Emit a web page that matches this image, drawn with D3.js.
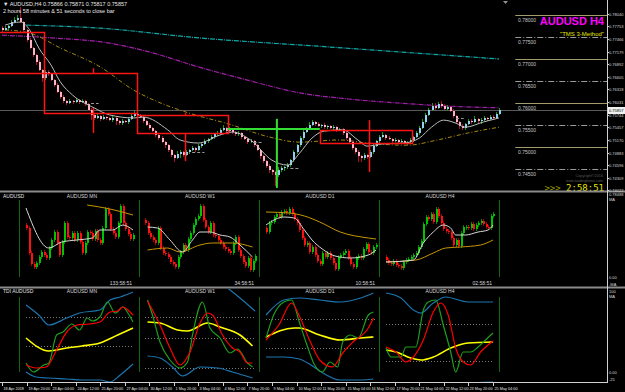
<!DOCTYPE html>
<html>
<head>
<meta charset="utf-8">
<script src="https://cdn.jsdelivr.net/npm/d3@7"></script>
<style>
  body { margin: 0; background: #000; }
  svg { display: block; }
</style>
</head>
<body>
<script>
// ---- AUDUSD H4, precios en unidades de 0.0001 ----
const firstOpen = 7772;
const closes = [
  7767,7771,7776,7785,7790,7794,7785,7767,7744,7726,
  7710,7694,7676,7658,7671,7667,7653,7642,7626,7615,
  7605,7601,7605,7603,7608,7603,7605,7599,7585,7574,
  7567,7571,7565,7569,7567,7562,7567,7560,7555,7560,
  7558,7565,7571,7576,7574,7569,7560,7551,7544,7537,
  7528,7521,7512,7505,7494,7483,7476,7485,7490,7483,
  7490,7494,7499,7494,7503,7508,7515,7519,7524,7530,
  7533,7540,7544,7537,7542,7535,7530,7533,7524,7519,
  7512,7515,7505,7494,7480,7469,7458,7449,7444,7437,
  7449,7453,7455,7460,7471,7490,7505,7521,7535,7544,
  7551,7558,7553,7549,7551,7546,7549,7544,7546,7540,
  7542,7533,7521,7512,7499,7490,7480,7476,7483,7478,
  7490,7503,7515,7524,7528,7521,7519,7515,7517,7512,
  7515,7510,7512,7517,7524,7533,7544,7558,7574,7585,
  7594,7590,7599,7594,7587,7592,7583,7571,7558,7549,
  7544,7553,7560,7558,7565,7560,7562,7567,7565,7569,
  7567,7576,7586
];
const wickUp = [
  3,4,2,5,6,8,25,3,2,4, 3,2,4,3,6,4,3,2,5,3, 4,3,6,3,5,3,4,3,2,4,
  3,5,2,4,3,2,5,3,2,4, 3,4,5,6,4,3,2,3,4,2, 3,2,4,3,2,3,2,6,4,3,
  4,3,5,2,4,3,5,3,4,3, 5,4,6,3,4,3,2,4,3,2, 3,4,2,3,2,3,2,4,3,2,
  6,4,3,5,3,4,3,5,4,3, 6,4,3,5,3,4,3,2,4,3, 3,2,4,3,2,3,4,3,5,3,
  4,5,3,4,6,3,4,3,5,3, 4,3,3,4,3,5,4,6,5,4, 7,8,5,6,4,5,3,4,3,2,
  4,3,5,4,6,3,5,4,3,5, 4,5,3
];
const wickDn = [
  4,3,5,2,3,2,3,4,5,3, 4,6,3,10,4,5,3,4,3,5, 3,4,3,4,3,5,3,4,3,12,
  4,3,5,3,4,3,5,8,4,3, 3,4,3,2,4,3,4,3,5,3, 4,5,3,6,4,5,8,3,10,4,
  3,5,3,4,3,5,3,4,3,4, 3,4,3,5,3,4,3,4,5,3, 4,3,5,3,6,4,5,8,6,25,
  5,4,6,3,4,3,4,3,5,3, 4,3,5,3,4,3,5,3,4,6, 3,4,5,3,4,6,12,8,5,4,
  3,4,3,4,3,5,3,4,3,5, 4,3,5,3,4,3,4,3,4,3, 3,4,3,5,3,4,3,4,5,8,
  5,4,3,5,3,4,6,3,4,3, 4,3,2
];
// medias móviles [barra, precio]
const maFast = [[1,7778],[6,7785],[9,7767],[12,7726],[16,7687],[19,7649],[23,7619],[30,7590],[35,7574],[43,7567],[46,7569],[54,7540],[58,7517],[64,7510],[71,7528],[75,7535],[81,7517],[88,7471],[93,7460],[97,7487],[101,7521],[105,7537],[111,7540],[116,7517],[119,7503],[124,7508],[131,7510],[136,7521],[140,7546],[144,7562],[148,7555],[151,7546],[157,7558],[162,7567]];
const maCyan = [[8,7778],[32,7771],[64,7749],[103,7730],[162,7701]];
const maMagenta = [[0,7755],[16,7749],[35,7737],[48,7717],[64,7683],[80,7653],[97,7624],[113,7610],[129,7601],[145,7594],[162,7590]];
const maGold = [[1,7767],[9,7760],[19,7726],[32,7683],[43,7630],[51,7603],[61,7578],[74,7553],[87,7524],[97,7512],[110,7517],[119,7510],[132,7505],[142,7517],[152,7533],[162,7546]];
// objetos TMS [barra inicio, barra fin, precio arriba, precio abajo]
const redBoxes = [[-3,13.7,7762,7669],[13.7,44,7669,7578],[44,73.6,7574,7533],[103.6,133.5,7540,7510]];
const redMarks = [[29.6,7590,7533],[59.8,7533,7469],[119.5,7562,7444],[29.6,7680,7669],[59.8,7578,7574]];
const greenHLine = [73.6,103.6,7542];
const greenVLine = [89.6,7565,7408];
const grayDashes = [[29,31.5,7601],[62,66,7490],[82,85,7512],[94,97,7453],[148,150.5,7567]];
const roundLevels = [7800,7750,7700,7650,7600,7550,7500,7450];
const priceTicks = [7804.0,7775.3,7746.6,7717.9,7689.2,7660.5,7631.8,7603.1,7574.4,7545.7,7517.0,7488.3,7459.6,7430.9,7402.2];
const priceLabels = ["0.78040","0.77753","0.77466","0.77179","0.76892","0.76605","0.76318","0.76031","0.75744","0.75457","0.75170","0.74883","0.74596","0.74309","0.74022"];
const bid = 7585.7;
const timeBars = [0,8,16,24,32,40,48,56,64,72,80,88,96,104,112,120,128,136,144,152,160];
const timeLabels = ["18 Apr 2018","19 Apr 20:00","23 Apr 04:00","24 Apr 12:00","25 Apr 20:00","27 Apr 04:00","30 Apr 12:00","1 May 20:00","3 May 04:00","4 May 12:00","7 May 20:00","9 May 04:00","10 May 12:00","11 May 20:00","15 May 04:00","16 May 12:00","17 May 20:00","21 May 04:00","22 May 12:00","23 May 20:00","25 May 04:00"];

// ---- mini gráficos (cierres) ----
const mnCloses = [7710,7260,7068,7020,7092,7200,7290,7230,7170,7350,7500,7650,7440,7230,7470,7800,7560,7530,7620,7500,7632,7470,7260,7440,7650,7632,7512,7668,7500,7452,7710,8052,7968,7692,7632,7560,7800,8112,7800,7692,7608,7512,7590];
const w1Closes = [7800,7620,7560,7500,7440,7710,7350,7272,7248,7200,7110,7068,7020,7200,7290,7410,7320,7512,7632,7770,7872,7932,8112,7860,7728,7650,7800,7590,7572,7500,7440,7380,7332,7296,7260,7440,7560,7320,7212,7110,7032,7170,6960,7128,7212];
const d1Closes = [7650,7800,7830,7908,7968,7908,8010,8028,7992,8052,7968,7872,7812,7680,7530,7410,7452,7290,7368,7230,7128,7068,7260,7200,7272,7170,7080,6972,7200,7230,7272,7308,7170,7068,7008,7170,7212,7170,7332,7428,7290,7272,7368,7410];
const h4Closes = [7140,7080,7068,7128,7050,7032,6990,7110,7140,7164,7200,7224,7260,7368,7488,7788,7908,7872,7968,7830,8052,7932,7800,7692,7668,7650,7530,7410,7500,7392,7632,7728,7740,7710,7788,7692,7764,7800,7848,7788,7740,7710,7932,7968];
const mnFast = [[0,8076],[9,7356],[14,7464],[20,7500],[26,7536],[29,7680],[34,7680],[38,7770],[42,7680]];
const mnSlow = [[24,8130],[33,8058],[42,7950]];
const w1Fast = [[1,7734],[5,7716],[10,7500],[15,7284],[19,7500],[22,7644],[26,7644],[30,7590],[34,7554],[38,7410],[43,7194]];
const w1Slow = [[1,7320],[9,7356],[14,7284],[22,7410],[27,7446],[35,7446],[43,7374]];
const d1Fast = [[0,7770],[7,7914],[11,7896],[15,7680],[18,7500],[22,7338],[27,7212],[33,7176],[40,7230],[43,7320]];
const d1Slow = [[0,8004],[9,7986],[15,7932],[21,7824],[29,7644],[40,7536],[43,7518]];
const h4Fast = [[0,7104],[11,7140],[15,7446],[19,7644],[23,7770],[26,7716],[28,7590],[32,7590],[37,7644],[41,7680],[43,7770]];
const h4Slow = [[0,7104],[12,7140],[19,7266],[24,7356],[30,7374],[38,7410],[43,7500]];
const miniTimers = ["133:58:51","34:58:51","10:58:51","02:58:51"];

// ---- TDI [barra, valor] ----
const mnUp = [[0,78],[5,68],[9,58],[16,65],[21,70],[29,73],[33,83],[37,86],[42,91]];
const mnLo = [[0,11],[4,6],[9,5],[16,4],[22,3],[29,3],[33,1],[37,8],[42,19]];
const mnMid = [[0,45],[9,32],[16,35],[22,37],[29,40],[36,48],[42,55]];
const mnRsi = [[0,20],[3,11],[7,18],[9,20],[12,48],[14.5,51],[18,59],[21,53],[24,65],[26,62],[29,66],[32,81],[35,70],[38,76],[40,70],[42,61]];
const mnSig = [[0,18],[4,15],[8,16],[12,33],[16,51],[20,58],[25,59],[29,61],[33,71],[36,72],[38,76],[40,73],[42,68]];
const w1Up = [[0,112],[15,118],[28,104],[33,95],[38,85],[44,72]];
const w1Lo = [[1,27],[6,25],[11,16],[15,7],[22,16],[29,15],[35,11],[43,5]];
const w1Mid = [[1,61],[6,60],[13,53],[17,52],[25,60],[30,56],[38,48],[43,37]];
const w1Rsi = [[1,83],[3,68],[6,41],[10,23],[14,15],[17,21],[19,48],[23,81],[26,55],[30,45],[34,30],[37,34],[41,20],[43,16]];
const w1Sig = [[1,82],[6,58],[10,35],[14,18],[18,31],[22,60],[25,70],[27,68],[31,48],[35,35],[38,31],[41,20],[43,20]];
const d1Up = [[0,68],[7,83],[13,85],[21,83],[29,81],[37,85],[42,90]];
const d1Lo = [[0,26],[7,26],[13,24],[17,19],[21,12],[29,3],[37,3],[42,4]];
const d1Mid = [[0,46],[11,55],[13,55],[21,48],[29,43],[37,45],[42,46]];
const d1Rsi = [[0,45],[3,68],[7,81],[10,83],[13,61],[16,38],[19,18],[22,11],[25,21],[28,16],[30,41],[33,48],[36,45],[40,68],[42,71]];
const d1Sig = [[0,43],[5,58],[10,80],[13,67],[17,43],[21,23],[26,16],[30,30],[34,41],[40,55],[42,65]];
const h4Up = [[0,90],[6,85],[11,73],[14,70],[19,80],[24,86],[33,81],[43,81]];
const h4Lo = [[0,-12],[20,-10],[30,-2],[33,0],[43,1]];
const h4Mid = [[0,33],[4,31],[10,25],[14,23],[19,26],[26,35],[33,40],[43,41]];
const h4Rsi = [[0,35],[2,26],[6,26],[8,36],[12,36],[15,73],[17,81],[20,83],[23,58],[26,31],[28,11],[31,31],[34,31],[37,36],[40,43],[43,50]];
const h4Sig = [[0,36],[4,31],[8,21],[11,26],[15,43],[19,71],[22,80],[25,68],[28,35],[31,21],[34,18],[38,31],[41,38],[43,42]];
const tdiLevels = [[66,37],[66,45,15],[64,35],[59,22]];

// ------------------------------------------------------------
const W = 625, H = 392;
const font = "'Liberation Sans', Arial, sans-serif";
const svg = d3.select("body").append("svg")
  .attr("width", W).attr("height", H)
  .style("background", "#000")
  .style("font-family", font);

const defs = svg.append("defs");
defs.append("clipPath").attr("id", "clipMain").append("rect").attr("x", 0).attr("y", 0).attr("width", 607).attr("height", 191);
defs.append("clipPath").attr("id", "clipMini").append("rect").attr("x", 0).attr("y", 193).attr("width", 607).attr("height", 94);
defs.append("clipPath").attr("id", "clipTdi").append("rect").attr("x", 0).attr("y", 289).attr("width", 607).attr("height", 93);

const x = d3.scaleLinear().domain([0, 162]).range([2, 499]);
const y = d3.scaleLinear().domain([7401, 7835]).range([191, 0]);

const main = svg.append("g").attr("clip-path", "url(#clipMain)");

// línea bid
main.append("line").attr("x1", 0).attr("x2", 607).attr("y1", Math.round(y(bid)) + 0.5).attr("y2", Math.round(y(bid)) + 0.5)
  .attr("stroke", "#5a5a5a");

// niveles redondos a la derecha
for (const lv of roundLevels) {
  const solid = lv % 100 === 0;
  const yy = Math.round(y(lv)) + 0.5;
  main.append("line").attr("x1", x(167.3)).attr("x2", 607).attr("y1", yy).attr("y2", yy)
    .attr("stroke", solid ? "#a39b6b" : "#9a9a9a")
    .attr("stroke-dasharray", solid ? null : "6,2,1,2");
  main.append("text").attr("x", x(168.2)).attr("y", yy + 6.5)
    .attr("font-size", 5).attr("fill", "#c8c8c8").text((lv / 10000).toFixed(5));
}

// medias
const lineMain = d3.line().x(d => x(d[0])).y(d => y(d[1])).curve(d3.curveMonotoneX);
main.append("path").attr("d", lineMain(maCyan)).attr("fill", "none").attr("stroke", "#12a8a8").attr("stroke-width", 1.2).attr("stroke-dasharray", "5,1,1,1");
main.append("path").attr("d", lineMain(maMagenta)).attr("fill", "none").attr("stroke", "#a020a8").attr("stroke-width", 1.2).attr("stroke-dasharray", "5,1,1,1");
main.append("path").attr("d", lineMain(maGold)).attr("fill", "none").attr("stroke", "#a88a10").attr("stroke-width", 1).attr("stroke-dasharray", "4,2,1,2");

// velas
const bars = main.append("g").attr("shape-rendering", "crispEdges");
closes.forEach((c, i) => {
  const o = i ? closes[i - 1] : firstOpen;
  const up = c >= o;
  const hi = Math.max(o, c) + wickUp[i], lo = Math.min(o, c) - wickDn[i];
  const cx = Math.round(x(i));
  bars.append("rect").attr("x", cx).attr("width", 1).attr("y", y(hi)).attr("height", y(lo) - y(hi))
    .attr("fill", up ? "#179a17" : "#b0102c");
  const top = y(Math.max(o, c)), bot = y(Math.min(o, c));
  bars.append("rect").attr("x", cx).attr("width", 2).attr("y", top).attr("height", Math.max(1, bot - top))
    .attr("fill", up ? "#8fd2ef" : "#ffb2c4");
});

main.append("path").attr("d", lineMain(maFast)).attr("fill", "none").attr("stroke", "#bdbdbd").attr("stroke-width", 1);

// cajas rojas
for (const [a, b, p0, p1] of redBoxes) {
  const x0 = Math.round(x(a)), x1 = Math.round(x(b));
  const y0 = Math.round(y(p0)), y1 = Math.round(y(p1));
  main.append("path")
    .attr("d", `M${x0 + 0.5},${y0 + 0.5}H${x1 + 0.5}V${y1 + 0.5}H${x0 + 0.5}Z`)
    .attr("fill", "none").attr("stroke", "#ff1414").attr("stroke-width", 1.5);
}

// marcas TMS
for (const [i, p0, p1] of redMarks) {
  main.append("line").attr("x1", Math.round(x(i)) + 0.5).attr("x2", Math.round(x(i)) + 0.5)
    .attr("y1", y(p0)).attr("y2", y(p1)).attr("stroke", "#ff1414").attr("stroke-width", 1.5);
}
main.append("line").attr("x1", x(greenHLine[0])).attr("x2", x(greenHLine[1]))
  .attr("y1", y(greenHLine[2])).attr("y2", y(greenHLine[2])).attr("stroke", "#33dd33").attr("stroke-width", 2);
main.append("line").attr("x1", x(greenVLine[0])).attr("x2", x(greenVLine[0]))
  .attr("y1", y(greenVLine[1])).attr("y2", y(greenVLine[2])).attr("stroke", "#33dd33").attr("stroke-width", 2);
for (const [a, b, p] of grayDashes) {
  main.append("line").attr("x1", x(a)).attr("x2", x(b)).attr("y1", Math.round(y(p)) + 0.5).attr("y2", Math.round(y(p)) + 0.5)
    .attr("stroke", "#9a9a9a").attr("stroke-dasharray", "3,2");
}

// textos del panel principal
svg.append("text").attr("x", 3).attr("y", 6).attr("font-size", 5.5).attr("fill", "#e8e8e8")
  .text("▼ AUDUSD,H4  0.75866 0.75871 0.75817 0.75857");
svg.append("text").attr("x", 3).attr("y", 13).attr("font-size", 5.5).attr("fill", "#e8e8e8")
  .text("2 hours 58 minutes & 51 seconds to close bar");
svg.append("text").attr("x", 604).attr("y", 25).attr("text-anchor", "end")
  .attr("font-size", 11).attr("font-weight", "bold").attr("fill", "#ff00ff").text("AUDUSD H4");
svg.append("text").attr("x", 604).attr("y", 36).attr("text-anchor", "end")
  .attr("font-size", 6).attr("fill", "#e6e600").text("\"TMS 3-Method\"");
svg.append("text").attr("x", 603).attr("y", 177).attr("text-anchor", "end")
  .attr("font-size", 3.8).attr("fill", "#5a5a5a").text("Copyright©2016");
svg.append("text").attr("x", 603).attr("y", 181.5).attr("text-anchor", "end")
  .attr("font-size", 3.8).attr("fill", "#5a5a5a").text("www.tradingforex.com");
const cd = svg.append("text").attr("x", 604).attr("y", 191).attr("text-anchor", "end")
  .attr("font-family", "'DejaVu Sans Mono', monospace").attr("font-size", 9).attr("fill", "#e6e600");
cd.append("tspan").attr("fill", "#9a9a00").text(">>> ");
cd.append("tspan").text("2:58:51");
svg.append("path").attr("d", "M503,1 L508,1 L505.5,4 Z").attr("fill", "#909090");

// separadores de paneles
svg.append("line").attr("x1", 0).attr("x2", W).attr("y1", 191.5).attr("y2", 191.5).attr("stroke", "#8a8a8a").attr("stroke-width", 2);
svg.append("line").attr("x1", 0).attr("x2", W).attr("y1", 287.5).attr("y2", 287.5).attr("stroke", "#8a8a8a").attr("stroke-width", 2);

// ---- mini gráficos ----
const miniY = d3.scaleLinear().domain([6654, 8346]).range([287, 193]);
const tdiY = d3.scaleLinear().domain([0, 95]).range([383, 288]);
const panels = [
  {title: "AUDUSD MN", x0: 26, x1: 133, cx: 82, closes: mnCloses, fast: mnFast, slow: mnSlow, tdi: [mnUp, mnLo, mnMid, mnRsi, mnSig]},
  {title: "AUDUSD W1", x0: 145, x1: 255, cx: 200, closes: w1Closes, fast: w1Fast, slow: w1Slow, tdi: [w1Up, w1Lo, w1Mid, w1Rsi, w1Sig]},
  {title: "AUDUSD D1", x0: 266, x1: 376, cx: 320, closes: d1Closes, fast: d1Fast, slow: d1Slow, tdi: [d1Up, d1Lo, d1Mid, d1Rsi, d1Sig]},
  {title: "AUDUSD H4", x0: 386, x1: 493, cx: 440, closes: h4Closes, fast: h4Fast, slow: h4Slow, tdi: [h4Up, h4Lo, h4Mid, h4Rsi, h4Sig]}
];
const dividers = [19, 139, 259, 379, 499];

const mini = svg.append("g").attr("clip-path", "url(#clipMini)");
const tdi = svg.append("g").attr("clip-path", "url(#clipTdi)");
for (const dx of dividers) {
  mini.append("line").attr("x1", dx + 0.5).attr("x2", dx + 0.5).attr("y1", 200).attr("y2", 277).attr("stroke", "#0d6a0d");
  tdi.append("line").attr("x1", dx + 0.5).attr("x2", dx + 0.5).attr("y1", 297).attr("y2", 372).attr("stroke", "#0d6a0d");
}
svg.append("text").attr("x", 3).attr("y", 198).attr("font-size", 5).attr("fill", "#e0e0e0").text("AUDUSD");
svg.append("text").attr("x", 3).attr("y", 293).attr("font-size", 5).attr("fill", "#e0e0e0").text("TDI AUDUSD");

panels.forEach((pn, k) => {
  const mx = d3.scaleLinear().domain([0, pn.closes.length - 1]).range([pn.x0, pn.x1]);
  const mline = d3.line().x(d => mx(d[0])).y(d => miniY(d[1])).curve(d3.curveMonotoneX);
  const g = mini.append("g").attr("shape-rendering", "crispEdges");
  pn.closes.forEach((c, i) => {
    const o = i ? pn.closes[i - 1] : pn.closes[0] + 60;
    const up = c >= o;
    const top = miniY(Math.max(o, c)), bot = miniY(Math.min(o, c));
    const cx = Math.round(mx(i));
    g.append("rect").attr("x", cx).attr("width", 1).attr("y", top - 2).attr("height", Math.max(1, bot - top) + 4)
      .attr("fill", up ? "#008a00" : "#b00000");
    g.append("rect").attr("x", cx).attr("width", 2).attr("y", top).attr("height", Math.max(1, bot - top))
      .attr("fill", up ? "#00c400" : "#ff1010");
  });
  mini.append("path").attr("d", mline(pn.slow)).attr("fill", "none").attr("stroke", "#c89600").attr("stroke-width", 1);
  mini.append("path").attr("d", mline(pn.fast)).attr("fill", "none").attr("stroke", "#d8d8d8").attr("stroke-width", 1);
  svg.append("text").attr("x", pn.cx).attr("y", 198).attr("text-anchor", "middle").attr("font-size", 5).attr("fill", "#d8d8d8").text(pn.title);
  svg.append("text").attr("x", pn.x1 - 1).attr("y", 285).attr("text-anchor", "end").attr("font-size", 5).attr("fill", "#d8d8d8").text(miniTimers[k]);

  // TDI
  const tline = d3.line().x(d => mx(d[0])).y(d => tdiY(d[1])).curve(d3.curveMonotoneX);
  for (const lv of tdiLevels[k]) {
    tdi.append("line").attr("x1", pn.x0).attr("x2", pn.x1).attr("y1", Math.round(tdiY(lv)) + 0.5).attr("y2", Math.round(tdiY(lv)) + 0.5)
      .attr("stroke", "#7a7a7a").attr("stroke-dasharray", "1,2");
  }
  const [up, lo, mid, rsi, sig] = pn.tdi;
  tdi.append("path").attr("d", tline(up)).attr("fill", "none").attr("stroke", "#1b76b0").attr("stroke-width", 1.2);
  tdi.append("path").attr("d", tline(lo)).attr("fill", "none").attr("stroke", "#1b76b0").attr("stroke-width", 1.2);
  tdi.append("path").attr("d", tline(mid)).attr("fill", "none").attr("stroke", "#ffff00").attr("stroke-width", 1.6);
  tdi.append("path").attr("d", tline(rsi)).attr("fill", "none").attr("stroke", "#1e9e1e").attr("stroke-width", 1.2);
  tdi.append("path").attr("d", tline(sig)).attr("fill", "none").attr("stroke", "#ff0000").attr("stroke-width", 1.2);
  svg.append("text").attr("x", pn.cx).attr("y", 293).attr("text-anchor", "middle").attr("font-size", 5).attr("fill", "#d8d8d8").text(pn.title);
});

// ---- ejes ----
svg.append("line").attr("x1", 607.5).attr("x2", 607.5).attr("y1", 0).attr("y2", 383).attr("stroke", "#d0d0d0");
svg.append("line").attr("x1", 0).attr("x2", 608).attr("y1", 382.5).attr("y2", 382.5).attr("stroke", "#d0d0d0");

const axisTxt = (sel) => sel.attr("font-size", 4).attr("fill", "#d8d8d8");
priceTicks.forEach((p, k) => {
  const yy = Math.round(y(p)) + 0.5;
  svg.append("line").attr("x1", 607).attr("x2", 609).attr("y1", yy).attr("y2", yy).attr("stroke", "#d0d0d0");
  svg.append("text").attr("x", 609).attr("y", yy + 1.8).call(axisTxt).text(priceLabels[k]);
});
// caja de precio actual
svg.append("rect").attr("x", 608).attr("y", Math.round(y(bid)) - 3).attr("width", 17).attr("height", 7).attr("fill", "#f0f0f0");
svg.append("text").attr("x", 609).attr("y", Math.round(y(bid)) + 2.3).attr("font-size", 4).attr("fill", "#000").text("0.75857");

// ejes de los sub-paneles
const sideLabels = [["0.78488", 196], ["MA", 201], ["0.00", 279], ["-MA", 286], ["100", 292.5], ["MA", 298], ["0.00", 374], ["-25", 381]];
for (const [t, yy] of sideLabels) {
  svg.append("text").attr("x", 609).attr("y", yy).call(axisTxt).text(t);
}

// eje de tiempo
timeBars.forEach((b, k) => {
  const xx = Math.round(x(b)) + 0.5;
  svg.append("line").attr("x1", xx).attr("x2", xx).attr("y1", 382).attr("y2", 386).attr("stroke", "#d0d0d0");
  svg.append("text").attr("x", xx + 1).attr("y", 390).attr("font-size", 3.8).attr("fill", "#e0e0e0").text(timeLabels[k]);
});
</script>
</body>
</html>
